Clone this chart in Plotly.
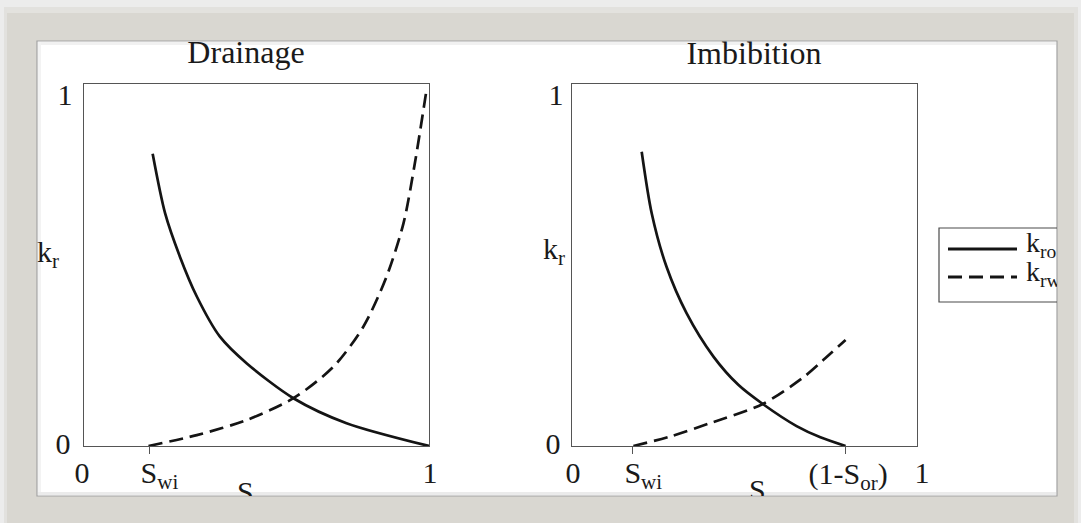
import plotly.graph_objects as go

W, H = 1081, 523

# ---- relative permeability curves ----
SWI_DR = 0.19     # irreducible water saturation, drainage
SWI_IM = 0.175    # irreducible water saturation, imbibition
SOR_IM = 0.207    # residual oil saturation, imbibition

dr_sw_kro = [0.199, 0.235, 0.278, 0.327, 0.394, 0.472, 0.607, 0.761, 1.0]
dr_kro    = [0.807, 0.643, 0.523, 0.413, 0.302, 0.228, 0.132, 0.063, 0.0]
dr_sw_krw = [0.187, 0.327, 0.472, 0.607, 0.723, 0.810, 0.877, 0.926, 0.959, 0.993]
dr_krw    = [0.0, 0.030, 0.072, 0.132, 0.219, 0.330, 0.468, 0.615, 0.781, 0.985]

im_sw_kro = [0.202, 0.231, 0.274, 0.332, 0.410, 0.482, 0.553, 0.651, 0.720, 0.793]
im_kro    = [0.813, 0.643, 0.495, 0.367, 0.247, 0.169, 0.116, 0.055, 0.024, 0.0]
im_sw_krw = [0.178, 0.284, 0.400, 0.553, 0.671, 0.729, 0.793]
im_krw    = [0.0, 0.026, 0.063, 0.116, 0.190, 0.238, 0.293]

# ---- text ----
titles = ["Drainage", "Imbibition"]
y_ticktext = ["0", "1"]
dr_x_ticktext = ["0", "S<sub>wi</sub>", "1"]
im_x_ticktext = ["0", "S<sub>wi</sub>", "(1-S<sub>or</sub>)", "1"]
x_title = "S<sub>w</sub>"
y_title = "k<sub>r</sub>"
legend_names = ["k<sub>ro</sub>", "k<sub>rw</sub>"]

FONT = "Liberation Serif"
INK = "#1a1a1a"
CURVE = "#141414"
FRAME_LINE = "#555555"
DASH = "14px,7px"

# page geometry (pixels, origin top-left)
PANEL = (37, 41, 1057, 496)          # white card
P1 = (84, 84, 429, 446)               # drainage axes box
P2 = (572, 84, 917, 446)              # imbibition axes box


def px(x):
    return x / W


def py(y):
    return 1 - y / H


def xdom(box):
    return [px(box[0]), px(box[2])]


def ydom(box):
    return [py(box[3]), py(box[1])]


fig = go.Figure()

# curves
curve_line = dict(color=CURVE, width=2.7, shape="spline", smoothing=0.8)
fig.add_trace(go.Scatter(x=dr_sw_kro, y=dr_kro, mode="lines", name="kro",
                         line=curve_line, xaxis="x", yaxis="y",
                         showlegend=False, hoverinfo="skip"))
fig.add_trace(go.Scatter(x=dr_sw_krw, y=dr_krw, mode="lines", name="krw",
                         line=dict(curve_line, dash=DASH), xaxis="x", yaxis="y",
                         showlegend=False, hoverinfo="skip"))
fig.add_trace(go.Scatter(x=im_sw_kro, y=im_kro, mode="lines", name="kro",
                         line=curve_line, xaxis="x2", yaxis="y2",
                         showlegend=False, hoverinfo="skip"))
fig.add_trace(go.Scatter(x=im_sw_krw, y=im_krw, mode="lines", name="krw",
                         line=dict(curve_line, dash=DASH), xaxis="x2", yaxis="y2",
                         showlegend=False, hoverinfo="skip"))


def bx(box, v):
    return box[0] + v * (box[2] - box[0])


def by(box, v):
    return box[3] - v * (box[3] - box[1])


# labels live on a card-sized overlay axis so they get cut at the card edge
tx, ty, tt, tp, ts = [], [], [], [], []


def lab(x, y, t, pos="middle center", size=30):
    tx.append(x); ty.append(y); tt.append(t); tp.append(pos); ts.append(size)


# titles
lab(246, 55, titles[0], size=32)
lab(754, 56, titles[1], size=32)

# y tick labels and y titles
lab(P1[0] - 21, by(P1, 0), y_ticktext[0])
lab(P1[0] - 19, by(P1, 1) + 13, y_ticktext[1])
lab(P2[0] - 19, by(P2, 0), y_ticktext[0])
lab(P2[0] - 16, by(P2, 1) + 13, y_ticktext[1])
lab(37, 254, y_title, "middle right")
lab(543, 251, y_title, "middle right")

# x tick labels
XT = 475
lab(bx(P1, 0) - 2, XT, dr_x_ticktext[0])
lab(bx(P1, SWI_DR) - 9, XT, dr_x_ticktext[1], "middle right")
lab(bx(P1, 1) + 1, XT, dr_x_ticktext[2])
lab(bx(P2, 0) + 1, XT, im_x_ticktext[0])
lab(bx(P2, SWI_IM) - 8, XT, im_x_ticktext[1], "middle right")
lab(bx(P2, 1 - SOR_IM) - 37, XT + 1, im_x_ticktext[2], "middle right")
lab(bx(P2, 1) + 5, XT, im_x_ticktext[3])

# x titles
lab(237, 494, x_title, "middle right")
lab(749, 492, x_title, "middle right")

# legend text
lab(1026, 245, legend_names[0], "middle right", 28)
lab(1026, 274, legend_names[1], "middle right", 28)

fig.add_trace(go.Scatter(x=tx, y=ty, text=tt, textposition=tp, mode="text",
                         textfont=dict(family=FONT, size=ts, color=INK),
                         xaxis="x3", yaxis="y3", cliponaxis=True,
                         showlegend=False, hoverinfo="skip"))

axis_common = dict(range=[0, 1], showgrid=False, zeroline=False, showline=True,
                   mirror=True, linecolor=FRAME_LINE, linewidth=1.4,
                   showticklabels=False, fixedrange=True)

fig.update_layout(
    width=W, height=H,
    margin=dict(l=0, r=0, t=0, b=0),
    paper_bgcolor="#ececec",
    plot_bgcolor="rgba(0,0,0,0)",
    showlegend=False,
    xaxis=dict(domain=xdom(P1), **axis_common, ticks="outside", tickmode="array",
               tickvals=[SWI_DR], ticklen=7, tickwidth=1.3, tickcolor=FRAME_LINE),
    yaxis=dict(domain=ydom(P1), **axis_common, ticks=""),
    xaxis2=dict(domain=xdom(P2), anchor="y2", **axis_common, ticks="outside", tickmode="array",
                tickvals=[SWI_IM, 1 - SOR_IM], ticklen=7, tickwidth=1.3, tickcolor=FRAME_LINE),
    yaxis2=dict(domain=ydom(P2), anchor="x2", **axis_common, ticks=""),
    xaxis3=dict(domain=[px(PANEL[0]), px(PANEL[2])], range=[PANEL[0], PANEL[2]],
                anchor="y3", visible=False, fixedrange=True),
    yaxis3=dict(domain=[py(PANEL[3]), py(PANEL[1])], range=[PANEL[3], PANEL[1]],
                anchor="x3", visible=False, fixedrange=True),
)


def prect(x0, y0, x1, y1, **kw):
    fig.add_shape(type="rect", xref="paper", yref="paper",
                  x0=px(x0), x1=px(x1), y0=py(y1), y1=py(y0), layer="below", **kw)


# grey card frame with soft outer haze
prect(4, 7, 1078, 530, fillcolor="#e2e1de", line=dict(width=0))
prect(7, 10, 1074, 530, fillcolor="#d9d7d1", line=dict(width=0))
prect(7, 10, 1074, 13, fillcolor="#e3e2de", line=dict(width=0))
# white card with a thin bevel
prect(PANEL[0], PANEL[1], PANEL[2], PANEL[3], fillcolor="white",
      line=dict(color="#a3a3a3", width=1.2))
prect(PANEL[0] + 1, PANEL[1] + 1, PANEL[2] - 1, PANEL[1] + 4, fillcolor="#f1f1f1", line=dict(width=0))
prect(PANEL[0] + 1, PANEL[1] + 1, PANEL[0] + 4, PANEL[3] - 1, fillcolor="#f3f3f3", line=dict(width=0))
prect(PANEL[0] + 1, PANEL[3] - 4, PANEL[2] - 1, PANEL[3] - 1, fillcolor="#ebebeb", line=dict(width=0))

# legend box and line samples (cut by the card edge)
fig.add_shape(type="rect", xref="x3", yref="y3", x0=939, x1=1080, y0=228, y1=302,
              line=dict(color="#4a4a4a", width=1.2), fillcolor="rgba(0,0,0,0)", layer="above")
fig.add_shape(type="line", xref="x3", yref="y3", x0=948, x1=1017, y0=249, y1=249,
              line=dict(color=CURVE, width=3.2), layer="above")
fig.add_shape(type="line", xref="x3", yref="y3", x0=948, x1=1017, y0=277, y1=277,
              line=dict(color=CURVE, width=3.2, dash=DASH), layer="above")

fig.write_html("out.html")
